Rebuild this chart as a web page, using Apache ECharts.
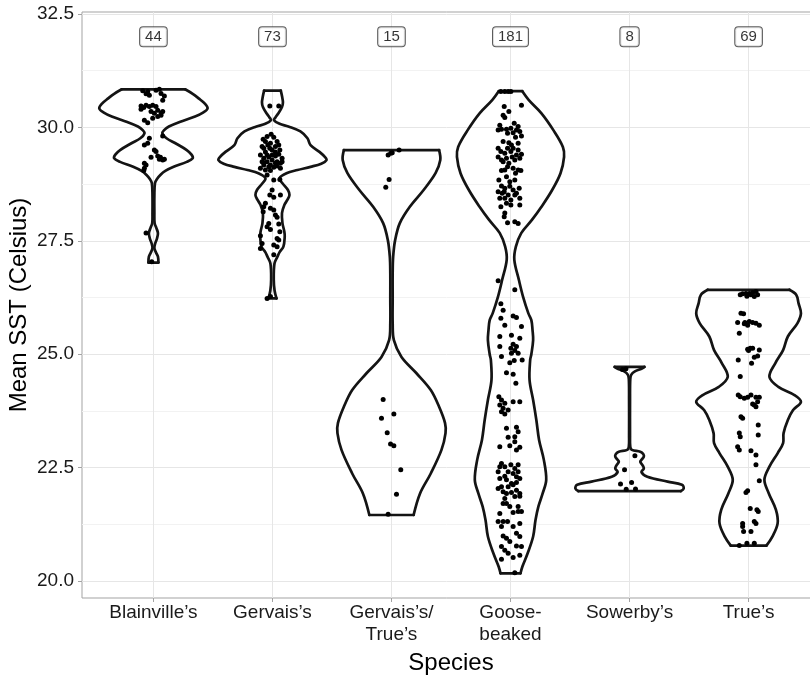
<!DOCTYPE html>
<html>
<head>
<meta charset="utf-8">
<script src="https://cdn.jsdelivr.net/npm/echarts@6/dist/echarts.min.js"></script>
<style>
  html, body { margin: 0; padding: 0; background: #fff; }
  #chart { width: 810px; height: 677px; }
</style>
</head>
<body>
<div id="chart"></div>
<script>
// Species on the x axis (category positions 1..6)
const species = ["Blainville\u2019s", "Gervais\u2019s", "Gervais\u2019s/\nTrue\u2019s", "Goose-\nbeaked", "Sowerby\u2019s", "True\u2019s"];
// Sample sizes shown above each violin
const counts = [44, 73, 15, 181, 8, 69];
const countLabelY = 32.0;

// Y axis ticks (major labels and minor gridlines)
const yTicks = [20, 22.5, 25, 27.5, 30, 32.5];
const yMinorTicks = [21.25, 23.75, 26.25, 28.75, 31.25];

// Violin outlines: [SST, half width in category units], from top to bottom
const violinBlainville = [[30.84,0.266],[30.74,0.33],[30.64,0.38],[30.53,0.43],[30.42,0.455],[30.33,0.42],[30.24,0.35],[30.12,0.22],[30.02,0.13],[29.94,0.09],[29.87,0.075],[29.76,0.11],[29.65,0.185],[29.50,0.28],[29.40,0.32],[29.32,0.33],[29.24,0.28],[29.13,0.17],[29.04,0.10],[28.95,0.058],[28.86,0.03],[28.77,0.013],[28.5,0.008],[28.1,0.008],[27.89,0.01],[27.78,0.025],[27.67,0.038],[27.55,0.03],[27.44,0.015],[27.34,0.008],[27.25,0.02],[27.15,0.038],[27.02,0.042]];
const violinGervais = [[30.81,0.070],[30.68,0.081],[30.55,0.088],[30.45,0.08],[30.31,0.05],[30.22,0.025],[30.16,0.013],[30.08,0.06],[30.02,0.134],[29.91,0.235],[29.76,0.294],[29.61,0.32],[29.46,0.395],[29.35,0.44],[29.28,0.454],[29.20,0.41],[29.13,0.32],[29.06,0.21],[28.99,0.118],[28.88,0.059],[28.77,0.084],[28.62,0.13],[28.51,0.143],[28.40,0.125],[28.29,0.10],[28.11,0.08],[27.89,0.084],[27.70,0.10],[27.59,0.103],[27.37,0.092],[27.25,0.06],[27.15,0.042],[27.00,0.017],[26.64,0.011],[26.40,0.018],[26.23,0.034]];
const violinGervaisTrue = [[29.50,0.40],[29.28,0.41],[28.99,0.37],[28.62,0.27],[28.25,0.154],[27.89,0.07],[27.52,0.031],[27.15,0.014],[26.78,0.01],[26.23,0.01],[25.68,0.01],[25.31,0.02],[24.94,0.084],[24.58,0.21],[24.21,0.33],[23.84,0.40],[23.48,0.45],[23.26,0.454],[22.89,0.42],[22.37,0.33],[21.93,0.24],[21.455,0.186]];
const violinGoose = [[30.80,0.098],[30.60,0.154],[30.31,0.26],[29.94,0.36],[29.57,0.44],[29.35,0.45],[28.99,0.42],[28.62,0.35],[28.25,0.26],[27.96,0.18],[27.67,0.09],[27.37,0.045],[27.08,0.032],[26.64,0.07],[26.27,0.105],[25.90,0.15],[25.75,0.175],[25.53,0.185],[25.31,0.19],[25.0,0.175],[24.87,0.165],[24.43,0.16],[23.99,0.19],[23.55,0.217],[23.11,0.24],[22.67,0.28],[22.23,0.30],[21.93,0.27],[21.64,0.234],[21.345,0.21],[20.98,0.19],[20.61,0.144],[20.32,0.10],[20.17,0.084]];
const violinSowerby = [[24.72,0.125],[24.68,0.10],[24.62,0.045],[24.55,0.015],[24.45,0.006],[24.0,0.004],[23.2,0.004],[22.96,0.006],[22.89,0.02],[22.85,0.09],[22.80,0.115],[22.74,0.12],[22.67,0.10],[22.63,0.09],[22.55,0.11],[22.48,0.12],[22.40,0.10],[22.30,0.15],[22.19,0.32],[22.12,0.44],[22.04,0.455],[21.98,0.43]];
const violinTrue = [[26.42,0.343],[26.31,0.40],[26.12,0.42],[25.90,0.44],[25.68,0.41],[25.39,0.33],[25.09,0.29],[24.80,0.224],[24.50,0.175],[24.28,0.25],[24.10,0.385],[23.95,0.44],[23.77,0.374],[23.55,0.33],[23.26,0.294],[23.04,0.29],[22.82,0.245],[22.52,0.175],[22.23,0.133],[21.93,0.17],[21.57,0.23],[21.27,0.244],[20.98,0.20],[20.78,0.15]];

// Individual observations: [horizontal jitter in category units, SST]
const pointsBlainville = [[-0.090,30.81],[-0.048,30.79],[-0.034,30.71],[0.050,30.84],[0.064,30.75],[0.092,30.69],[0.078,30.60],[-0.062,30.74],[-0.104,30.47],[-0.081,30.44],[-0.062,30.49],[-0.034,30.46],[-0.006,30.49],[0.022,30.46],[0.036,30.38],[-0.020,30.35],[0.008,30.31],[0.064,30.32],[0.078,30.35],[-0.076,30.16],[-0.048,30.10],[-0.006,30.20],[0.036,30.24],[0.064,30.27],[-0.034,29.76],[0.078,29.81],[-0.076,29.61],[-0.048,29.65],[0.008,29.50],[0.022,29.47],[-0.020,29.34],[0.036,29.37],[0.059,29.34],[0.078,29.28],[0.050,29.30],[0.092,29.30],[-0.062,29.17],[-0.076,29.10],[-0.081,29.05],[-0.062,27.67],[-0.014,27.04],[-0.104,30.40],[0.022,30.82],[-0.076,29.21]];
const pointsGervais = [[-0.022,30.47],[0.053,30.47],[-0.011,29.85],[-0.078,29.74],[-0.059,29.69],[-0.017,29.65],[0.039,29.69],[-0.087,29.58],[-0.039,29.61],[0.025,29.58],[0.062,29.50],[-0.059,29.46],[-0.003,29.50],[-0.101,29.39],[-0.073,29.32],[-0.031,29.35],[0.025,29.37],[0.081,29.32],[-0.087,29.24],[-0.045,29.24],[-0.003,29.28],[0.039,29.24],[0.067,29.21],[-0.073,29.17],[-0.031,29.13],[0.011,29.12],[-0.101,29.10],[-0.059,29.06],[-0.017,29.05],[0.039,29.15],[0.081,29.24],[-0.003,29.39],[0.062,28.85],[-0.003,28.62],[-0.022,28.51],[0.011,28.46],[0.067,28.51],[-0.059,28.33],[-0.017,28.22],[-0.073,28.25],[0.011,28.18],[0.025,28.07],[0.039,28.02],[-0.031,27.88],[0.053,27.87],[-0.045,27.81],[-0.017,27.75],[-0.101,27.61],[0.039,27.55],[0.053,27.52],[-0.087,27.44],[0.011,27.41],[-0.101,27.33],[0.039,27.37],[0.011,27.19],[-0.045,26.23],[-0.017,26.27],[-0.045,29.80],[0.011,29.78],[0.053,29.61],[-0.073,29.54],[-0.022,29.54],[0.025,29.46],[-0.045,29.39],[0.053,29.41],[-0.073,29.22],[0.025,29.21],[-0.017,29.17],[0.067,29.10],[-0.045,28.95],[0.011,28.84],[-0.078,28.14],[0.062,27.70]];
const pointsGervaisTrue = [[-0.028,29.39],[-0.006,29.43],[0.006,29.44],[0.064,29.50],[-0.020,28.85],[-0.048,28.68],[-0.070,24.00],[-0.084,23.59],[0.020,23.68],[-0.036,23.27],[-0.008,23.02],[0.020,22.98],[0.078,22.45],[0.042,21.91],[-0.028,21.47]];
const pointsGoose = [[-0.081,30.79],[-0.048,30.79],[-0.020,30.79],[0.003,30.79],[0.092,30.49],[-0.053,30.46],[-0.014,30.35],[-0.062,30.27],[-0.048,30.22],[0.031,30.09],[-0.076,29.96],[-0.034,29.96],[0.003,29.98],[0.050,29.94],[0.078,29.91],[0.022,29.88],[0.092,29.81],[-0.104,29.94],[-0.014,29.66],[0.008,29.61],[0.022,29.54],[-0.081,29.47],[-0.048,29.43],[0.003,29.47],[0.050,29.39],[0.078,29.32],[-0.076,29.28],[-0.034,29.32],[-0.062,29.24],[0.036,29.28],[-0.014,29.21],[0.022,29.10],[-0.076,29.05],[0.064,29.06],[-0.048,29.06],[0.087,29.05],[-0.034,28.91],[-0.006,28.80],[-0.076,28.71],[-0.048,28.66],[-0.006,28.70],[0.022,28.62],[-0.104,28.58],[-0.070,28.55],[-0.020,28.51],[0.073,28.66],[-0.090,28.44],[-0.048,28.44],[0.003,28.40],[0.036,28.51],[0.078,28.44],[0.003,28.29],[0.078,28.29],[-0.048,28.11],[-0.053,28.03],[-0.025,27.90],[0.036,27.92],[0.064,27.88],[-0.104,26.62],[0.036,26.42],[-0.081,26.11],[-0.062,25.97],[0.022,25.84],[-0.081,25.79],[-0.048,25.64],[0.050,25.81],[0.092,25.61],
  [-0.090,30.05],[0.064,30.02],[-0.025,29.87],[0.042,29.78],[-0.062,29.69],[0.064,29.65],[-0.104,29.54],[-0.025,29.54],[0.064,29.50],[-0.104,29.35],[0.014,29.35],[0.092,29.41],[-0.025,29.13],[0.042,28.99],[-0.098,28.84],[0.036,28.84],[-0.053,28.58],[0.050,28.55],[-0.034,28.33],[-0.081,28.25],
  [-0.090,25.39],[0.008,25.42],[0.078,25.35],[0.022,25.22],[0.050,25.17],[0.003,25.13],[0.036,25.08],[0.008,25.02],[-0.076,24.95],[-0.006,24.81],[0.031,24.86],[0.098,24.87],[-0.034,24.59],[0.022,24.56],[0.045,24.36],[-0.098,24.06],[-0.076,23.99],[-0.090,23.88],[-0.048,23.92],[-0.062,23.81],[-0.020,23.77],[-0.076,23.73],[-0.048,23.68],[0.022,23.95],[0.078,23.95],[-0.034,23.37],[0.050,23.39],[0.064,23.29],[-0.020,23.17],[0.036,23.18],[0.036,23.07],[-0.090,22.96],[-0.006,22.98],[0.078,22.95],[0.050,22.89],[-0.090,22.52],[-0.048,22.52],[0.003,22.56],[0.064,22.56],[-0.020,22.41],[0.022,22.37],[-0.048,22.31],[0.050,22.30],[0.078,22.26],[0.008,22.15],[-0.076,22.08],[0.022,22.12],[-0.104,22.04],[-0.062,21.97],[-0.034,21.93],[0.008,21.95],[0.050,22.00],[0.078,21.93],[0.078,21.87],[-0.062,21.71],[-0.034,21.71],[-0.090,21.49],[0.022,21.51],[0.064,21.53],[0.092,21.53],[-0.104,21.31],[-0.062,21.31],[-0.025,21.31],[0.078,21.27],[0.050,21.05],[-0.062,20.99],[-0.034,20.94],[0.078,20.98],[-0.076,20.76],[-0.048,20.68],[0.050,20.77],[0.092,20.76],[-0.076,20.48],[0.022,20.52],[0.078,20.57],[0.036,20.18],
  [-0.076,22.59],[0.036,22.48],[-0.104,22.41],[0.064,22.41],[-0.034,22.23],[0.050,22.17],[-0.020,22.08],[-0.090,22.26],[0.036,21.86],[-0.048,21.82],[-0.006,21.64],[0.064,21.64],[-0.076,21.20],[0.022,21.20],[-0.006,20.87],[-0.020,20.61],[-0.090,25.17],[0.064,25.02]];
const pointsSowerby = [[-0.060,24.66],[-0.030,24.68],[0.045,22.76],[-0.042,22.45],[-0.076,22.14],[0.017,22.17],[-0.028,22.02],[0.050,22.03]];
const pointsTrue = [[-0.070,26.31],[-0.050,26.33],[-0.014,26.28],[0.006,26.34],[0.034,26.36],[0.062,26.38],[0.048,26.27],[0.020,26.31],[-0.064,25.90],[-0.042,25.89],[-0.092,25.70],[-0.036,25.67],[-0.008,25.64],[0.034,25.70],[0.062,25.68],[0.090,25.64],[-0.078,25.46],[-0.008,25.11],[0.014,25.13],[0.090,25.09],[0.048,24.93],[0.076,24.96],[-0.087,24.87],[0.025,24.80],[-0.070,24.51],[-0.087,24.10],[-0.070,24.06],[-0.008,24.05],[0.062,24.05],[0.090,24.05],[0.034,23.90],[0.062,23.84],[0.048,23.88],[-0.064,23.62],[-0.050,23.59],[0.081,23.44],[-0.078,23.26],[-0.070,23.18],[0.081,23.22],[-0.092,22.96],[-0.078,22.89],[0.020,22.87],[0.062,22.78],[0.062,22.56],[0.090,22.21],[-0.008,21.99],[-0.022,21.95],[0.014,21.60],[0.070,21.57],[0.081,21.53],[-0.050,21.27],[0.048,21.31],[-0.042,21.09],[0.020,21.09],[-0.078,20.78],[0.048,20.83],[-0.022,26.34],[0.076,26.31],[-0.031,25.70],[0.006,25.72],[0.034,25.13],[0.000,25.08],[0.020,24.10],[-0.036,24.03],[0.076,23.95],[-0.050,21.20],[0.062,21.27],[-0.014,20.83]];

const violins = [violinBlainville, violinGervais, violinGervaisTrue, violinGoose, violinSowerby, violinTrue];
const pointSets = [pointsBlainville, pointsGervais, pointsGervaisTrue, pointsGoose, pointsSowerby, pointsTrue];

const FONT = "'Liberation Sans', Arial, Helvetica, sans-serif";

// Flatten jittered observations onto the numeric x scale (category i sits at i + 1)
const scatterData = [];
pointSets.forEach((set, i) => set.forEach(p => scatterData.push([i + 1 + p[0], p[1]])));

const chart = echarts.init(document.getElementById('chart'), null, { renderer: 'canvas' });

function renderViolin(params, api) {
  const i = api.value(0);
  const prof = violins[i];
  const cx = i + 1;
  const left = prof.map(p => api.coord([cx - p[1], p[0]]));
  const right = prof.map(p => api.coord([cx + p[1], p[0]]));
  const style = { stroke: '#141414', lineWidth: 2.7, fill: null, lineJoin: 'round', lineCap: 'round' };
  const n = prof.length - 1;
  return {
    type: 'group',
    children: [
      { type: 'polyline', shape: { points: left, smooth: 0.35 }, style: style },
      { type: 'polyline', shape: { points: right, smooth: 0.35 }, style: style },
      { type: 'line', shape: { x1: left[0][0], y1: left[0][1], x2: right[0][0], y2: right[0][1] }, style: style },
      { type: 'line', shape: { x1: left[n][0], y1: left[n][1], x2: right[n][0], y2: right[n][1] }, style: style }
    ]
  };
}

const option = {
  animation: false,
  backgroundColor: '#ffffff',
  grid: {
    left: 82, right: -10, top: 12, bottom: 79,
    outerBoundsMode: 'none',
    containLabel: false,
    show: true, borderColor: '#a3a3a3', borderWidth: 1, backgroundColor: 'transparent'
  },
  xAxis: {
    type: 'value',
    min: 0.4, max: 6.6,
    name: 'Species',
    nameLocation: 'middle',
    nameGap: 47,
    nameTextStyle: { fontFamily: FONT, fontSize: 24, color: '#000' },
    axisLine: { show: false },
    axisTick: { show: true, length: 4, customValues: [1, 2, 3, 4, 5, 6], lineStyle: { color: '#a3a3a3', width: 1 } },
    axisLabel: {
      customValues: [1, 2, 3, 4, 5, 6],
      formatter: v => species[Math.round(v) - 1] || '',
      fontFamily: FONT, fontSize: 19, color: '#1a1a1a', lineHeight: 22, margin: 4
    },
    splitLine: { show: true, lineStyle: { color: '#e6e6e6', width: 1 } }
  },
  yAxis: [{
    type: 'value',
    min: 19.625, max: 32.544,
    name: 'Mean SST (Celsius)',
    nameLocation: 'middle',
    nameGap: 51,
    nameMoveOverlap: false,
    nameTextStyle: { fontFamily: FONT, fontSize: 24, color: '#000' },
    axisLine: { show: false },
    axisTick: { show: true, length: 4, customValues: yTicks, lineStyle: { color: '#a3a3a3', width: 1 } },
    axisLabel: {
      customValues: yTicks,
      formatter: v => v.toFixed(1),
      fontFamily: FONT, fontSize: 19, color: '#1a1a1a', margin: 8
    },
    splitLine: { show: true, lineStyle: { color: '#e6e6e6', width: 1 } }
  }, {
    type: 'value',
    min: 19.625, max: 32.544,
    position: 'right',
    axisLine: { show: false },
    axisTick: { show: false, customValues: yMinorTicks },
    axisLabel: { show: false },
    splitLine: { show: true, lineStyle: { color: '#f2f2f2', width: 1 } }
  }],
  series: [
    {
      type: 'custom',
      renderItem: renderViolin,
      data: species.map((s, i) => [i, 25]),
      encode: { x: 0, y: 1 },
      silent: true,
      z: 3
    },
    {
      type: 'scatter',
      data: scatterData,
      symbol: 'circle',
      symbolSize: 5,
      itemStyle: { color: '#000', opacity: 1 },
      silent: true,
      z: 4
    },
    {
      type: 'scatter',
      data: counts.map((c, i) => [i + 1, countLabelY, c]),
      symbolSize: 1,
      itemStyle: { color: 'rgba(0,0,0,0)' },
      label: {
        show: true,
        position: 'inside',
        formatter: p => String(p.value[2]),
        fontFamily: FONT, fontSize: 15, color: '#000',
        backgroundColor: '#fff', borderColor: '#333', borderWidth: 1, borderRadius: 3,
        padding: [2, 5, 1, 5], lineHeight: 16
      },
      silent: true,
      z: 5
    }
  ]
};

chart.setOption(option);
</script>
</body>
</html>
